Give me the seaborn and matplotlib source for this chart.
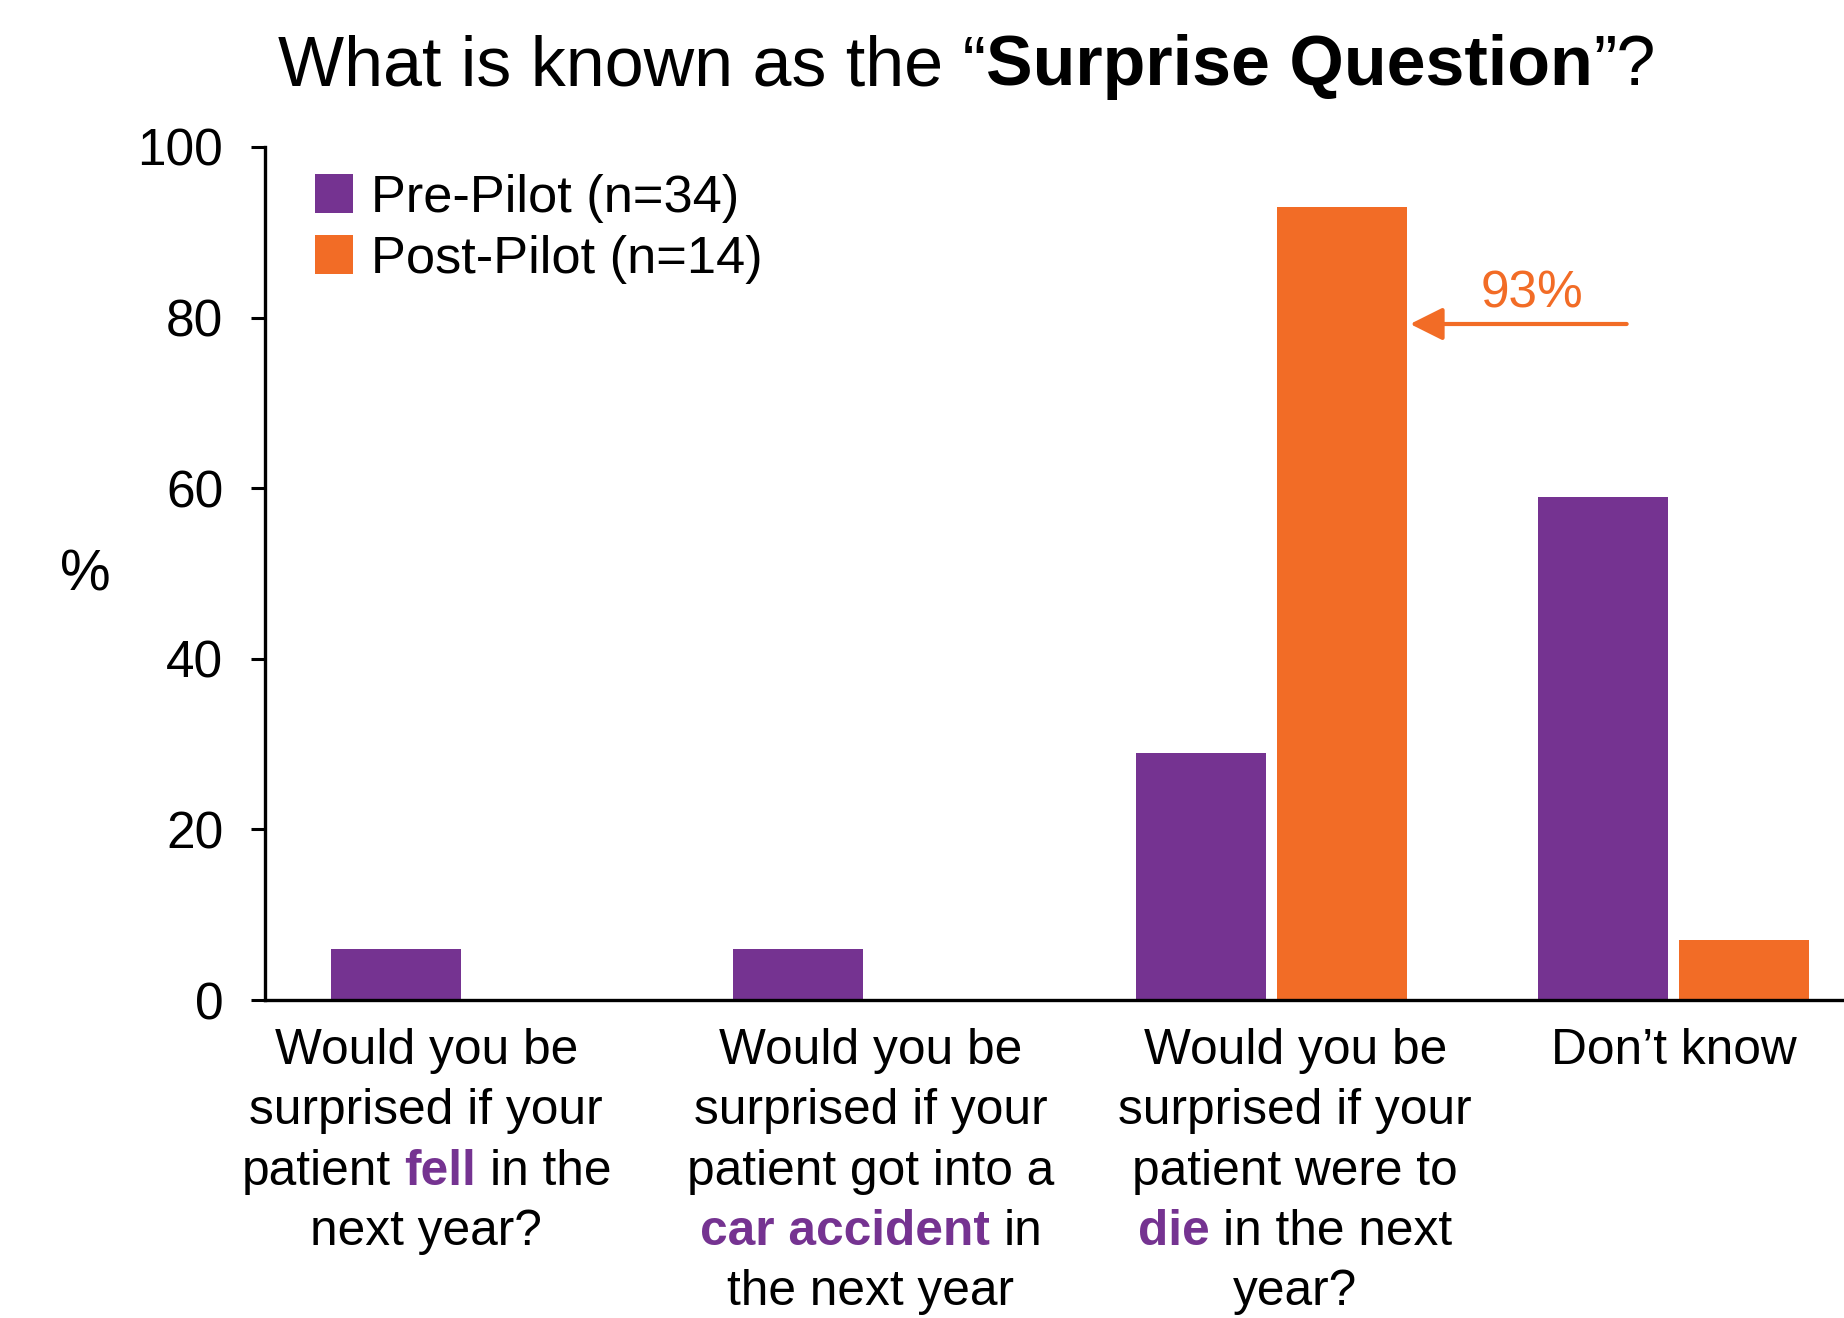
import matplotlib
matplotlib.use("Agg")
import matplotlib.pyplot as plt
import seaborn as sns
import pandas as pd
from matplotlib.transforms import IdentityTransform

# ---------------- data ----------------
categories = [
    "Would you be surprised if your patient fell in the next year?",
    "Would you be surprised if your patient got into a car accident in the next year",
    "Would you be surprised if your patient were to die in the next year?",
    "Don\u2019t know",
]
series = ["Pre-Pilot (n=34)", "Post-Pilot (n=14)"]
pre_values = [6, 6, 29, 59]
post_values = [0, 0, 93, 7]
y_ticks = [0, 20, 40, 60, 80, 100]
annotation_text = "93%"

PURPLE = "#753391"
ORANGE = "#F26C26"
BLACK = "#000000"

# rich-text tick labels: lines of (text, color, weight)
label_lines = [
    [[("Would you be", BLACK, "normal")],
     [("surprised if your", BLACK, "normal")],
     [("patient ", BLACK, "normal"), ("fell", PURPLE, "bold"), (" in the", BLACK, "normal")],
     [("next year?", BLACK, "normal")]],
    [[("Would you be", BLACK, "normal")],
     [("surprised if your", BLACK, "normal")],
     [("patient got into a", BLACK, "normal")],
     [("car accident", PURPLE, "bold"), (" in", BLACK, "normal")],
     [("the next year", BLACK, "normal")]],
    [[("Would you be", BLACK, "normal")],
     [("surprised if your", BLACK, "normal")],
     [("patient were to", BLACK, "normal")],
     [("die", PURPLE, "bold"), (" in the next", BLACK, "normal")],
     [("year?", BLACK, "normal")]],
    [[("Don\u2019t know", BLACK, "normal")]],
]
# horizontal pixel shift of each label block relative to its group centre
label_shift_px = [-40, 2, 24, 0]

title_pieces = [("What is known as the \u201c", BLACK, "normal"),
                ("Surprise Question", BLACK, "bold"),
                ("\u201d?", BLACK, "normal")]

df = pd.DataFrame({
    "question": categories * 2,
    "group": [series[0]] * len(categories) + [series[1]] * len(categories),
    "pct": pre_values + post_values,
})

# ---------------- figure ----------------
plt.rcParams["font.family"] = ["Liberation Sans", "DejaVu Sans"]
W, H = 1844, 1318
fig = plt.figure(figsize=(W / 100, H / 100), dpi=100)
ax = fig.add_axes([265 / W, (H - 1000) / H, 1610 / W, 853 / H])

sns.barplot(data=df, x="question", y="pct", hue="group", order=categories,
            hue_order=series, palette=[PURPLE, ORANGE], width=0.7, gap=0.077,
            saturation=1, linewidth=0, ax=ax)

ax.set_xlim(-0.5, 3.5)
ax.set_ylim(0, 100)
ax.set_yticks(y_ticks)
ax.set_xticks(range(len(categories)))
ax.set_xticklabels([""] * len(categories))
ax.tick_params(axis="x", length=0)
ax.tick_params(axis="y", length=10, width=2.2, labelsize=37, pad=20, colors=BLACK)
ax.set_xlabel("")
ax.set_ylabel("")
for s in ["top", "right"]:
    ax.spines[s].set_visible(False)
for s in ["left", "bottom"]:
    ax.spines[s].set_linewidth(2.4)
    ax.spines[s].set_color(BLACK)
    ax.spines[s].set_zorder(5)

# legend
handles, labels = ax.get_legend_handles_labels()
leg = ax.legend(handles, labels, loc="upper left", bbox_to_anchor=(0.018, 0.993),
                frameon=False, fontsize=37.7, handlelength=0.72, handleheight=0.78,
                handletextpad=0.35, labelspacing=0.23, borderaxespad=0)

# annotation arrow
ax.annotate("", xy=(2.345, 79.25), xytext=(2.883, 79.25),
            arrowprops=dict(arrowstyle="-|>,head_length=1.0,head_width=0.5",
                            color=ORANGE, lw=3, mutation_scale=20,
                            shrinkA=0, shrinkB=0))
ax.text(2.647, 81.2, annotation_text, color=ORANGE, fontsize=37,
        ha="center", va="baseline")

# y label
fig.text(85 / W, 1 - 575 / H, "%", fontsize=41, ha="center", va="center")

# ---------------- rich text helpers ----------------
fig.canvas.draw()
renderer = fig.canvas.get_renderer()


def text_width(s, size, weight):
    t = fig.text(0, 0, "|" + s + "|", fontsize=size, fontweight=weight)
    w1 = t.get_window_extent(renderer).width
    t.set_text("||")
    w2 = t.get_window_extent(renderer).width
    t.remove()
    return w1 - w2


def rich(xc, ybase, pieces, size):
    items = []
    total = 0.0
    for s, c, w in pieces:
        lead = len(s) - len(s.lstrip(" "))
        trail = len(s) - len(s.rstrip(" "))
        sp = text_width(" ", size, w)
        core = s.strip(" ")
        wd = text_width(core, size, w)
        items.append((core, c, w, lead * sp, wd, trail * sp))
        total += lead * sp + wd + trail * sp
    x = xc - total / 2
    for core, c, w, lsp, wd, tsp in items:
        x += lsp
        fig.text(x, ybase, core, color=c, fontsize=size, fontweight=w,
                 ha="left", va="baseline", transform=IdentityTransform())
        x += wd + tsp


# title
rich(967, H - 85, title_pieces, 50.4)

# x labels
axis_y = ax.transData.transform((0, 0))[1]
for i, lines in enumerate(label_lines):
    xc = ax.transData.transform((i, 0))[0] + label_shift_px[i]
    for j, pieces in enumerate(lines):
        rich(xc, axis_y - 64 - 60.3 * j, pieces, 35.7)

fig.savefig("out.png", dpi=100)
